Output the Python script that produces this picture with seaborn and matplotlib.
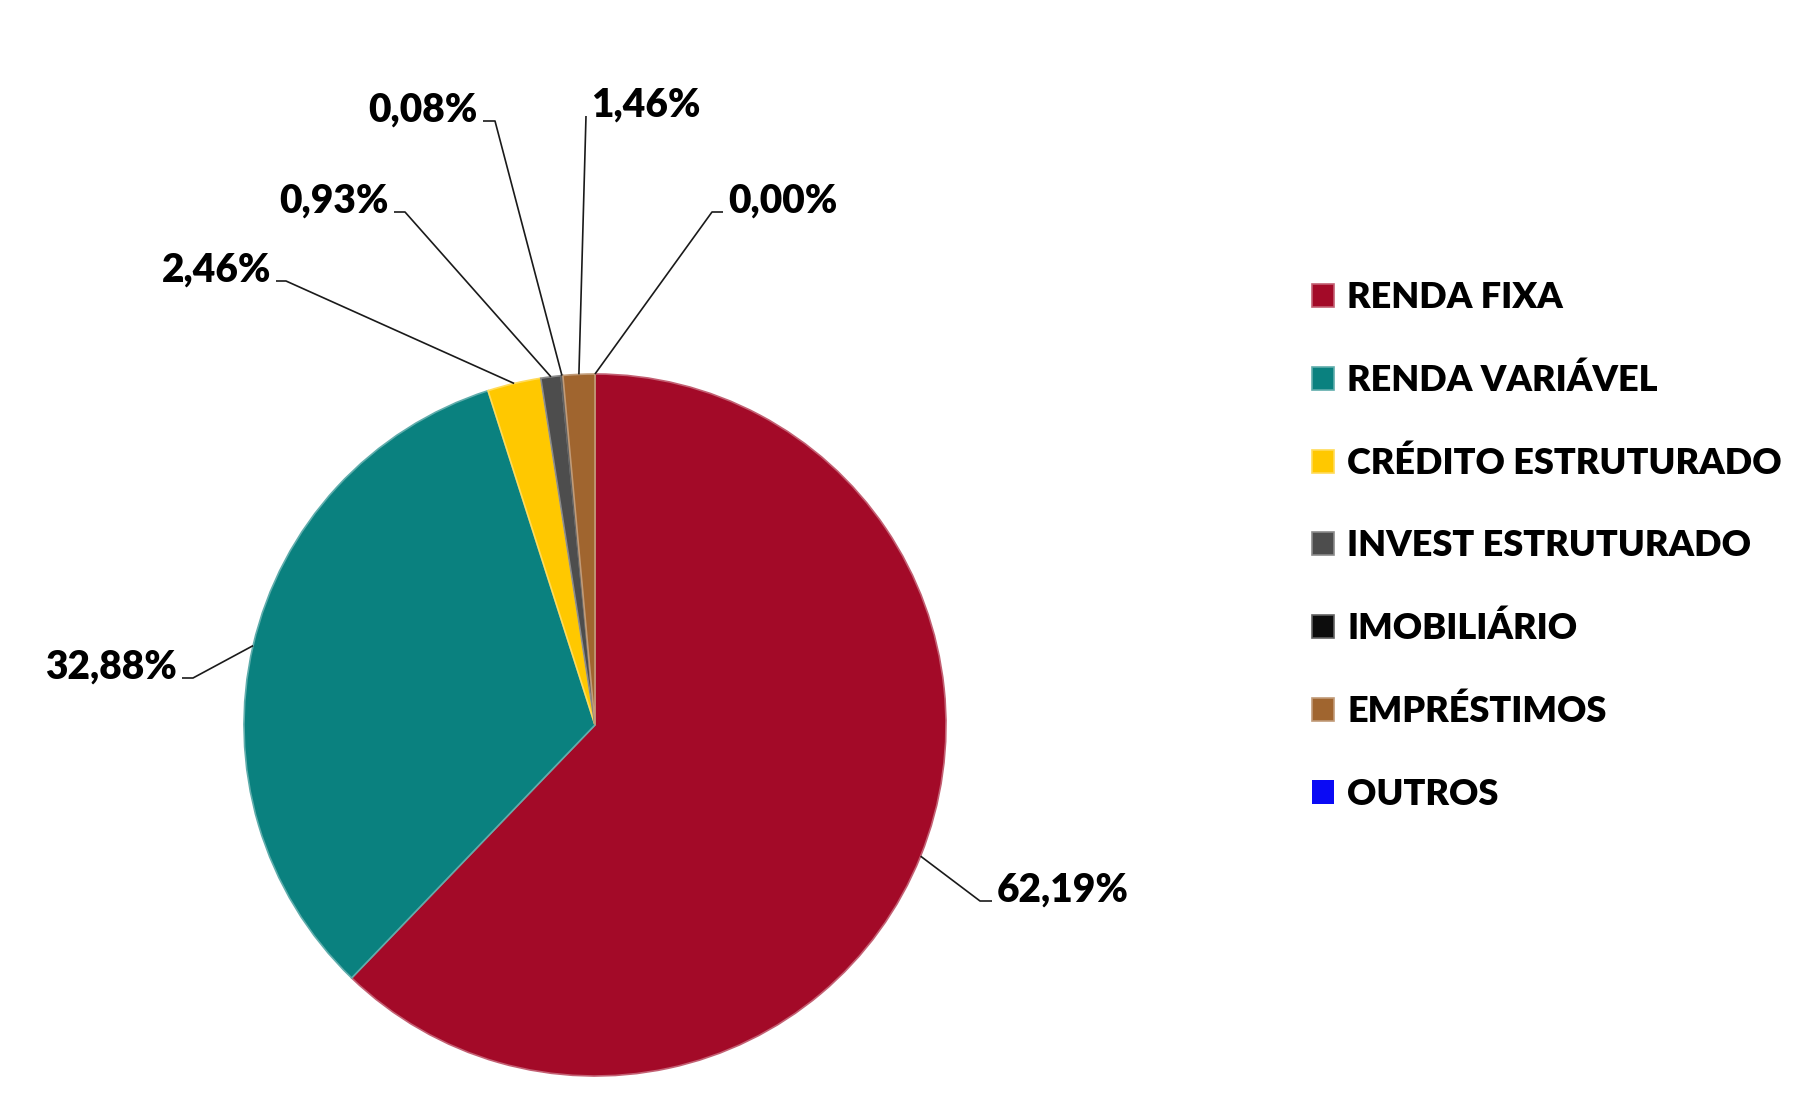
import matplotlib
matplotlib.use('Agg')
import matplotlib.pyplot as plt
import seaborn as sns
import numpy as np
from matplotlib.colors import to_rgb


# Dados
categorias = ['RENDA FIXA', 'RENDA VARIÁVEL', 'CRÉDITO ESTRUTURADO',
              'INVEST ESTRUTURADO', 'IMOBILIÁRIO', 'EMPRÉSTIMOS', 'OUTROS']
percentuais = [62.19, 32.88, 2.46, 0.93, 0.08, 1.46, 0.00]
cores = ['#A30A28', '#0A817F', '#FFC800', '#4D4D4D', '#0D0D0D', '#A0652F', '#0A0AF5']

# posicao dos rotulos (pixels, origem no topo): cotovelo da linha, fim da linha, lado do texto
rotulos_layout = [
    (980, 901, 992, 'left'),
    (193, 678, 182, 'right'),
    (286, 281, 276, 'right'),
    (405, 212, 394, 'right'),
    (495, 121, 483, 'right'),
    (586, 116, 586, 'left'),
    (712, 212, 723, 'left'),
]


def clarear(cor, f=0.35):
    r, g, b = to_rgb(cor)
    return (r + (1 - r) * f, g + (1 - g) * f, b + (1 - b) * f)


sns.set_theme(style='white')
plt.rcParams['font.family'] = ['Lato', 'DejaVu Sans']
plt.rcParams['font.weight'] = 'bold'
plt.rcParams['text.color'] = 'black'

W, H = 1801, 1107
fig = plt.figure(figsize=(W / 100, H / 100), dpi=100)
ax = fig.add_axes([0, 0, 1, 1])
cx, cy, raio = 595, H - 725, 351

wedges, _ = ax.pie(percentuais, colors=sns.color_palette(cores), startangle=90,
                   counterclock=False, radius=raio, center=(cx, cy),
                   wedgeprops=dict(linewidth=1.2))
for w, c, v in zip(wedges, cores, percentuais):
    w.set_edgecolor(clarear(c))
    if v == 0:
        w.set_linewidth(0)

ax.set_xlim(0, W)
ax.set_ylim(0, H)
ax.set_aspect('equal')
ax.axis('off')

# rotulos com linhas de chamada
for w, v, (ex, ey, fx, lado) in zip(wedges, percentuais, rotulos_layout):
    ang = np.deg2rad((w.theta1 + w.theta2) / 2)
    px, py = cx + raio * np.cos(ang), cy + raio * np.sin(ang)
    ax.plot([px, ex, fx], [py, H - ey, H - ey], color='#1a1a1a', lw=1.2,
            solid_capstyle='butt')
    texto = f'{v:.2f}'.replace('.', ',') + '%'
    tx = fx + 5 if lado == 'left' else fx - 5
    ax.text(tx, H - ey - 1, texto, ha=lado, va='baseline', fontsize=28,
            fontweight='heavy', color='black')

leg = ax.legend(wedges, categorias, loc='upper left',
                bbox_to_anchor=(1312 / W, 1 - 281 / H), frameon=False,
                fontsize=26, handlelength=0.62, handleheight=0.62,
                handletextpad=0.35, labelspacing=1.37, borderpad=0,
                borderaxespad=0)
for t in leg.get_texts():
    t.set_fontweight('heavy')
    t.set_color('black')

plt.savefig('out.png', dpi=100, facecolor='white')
